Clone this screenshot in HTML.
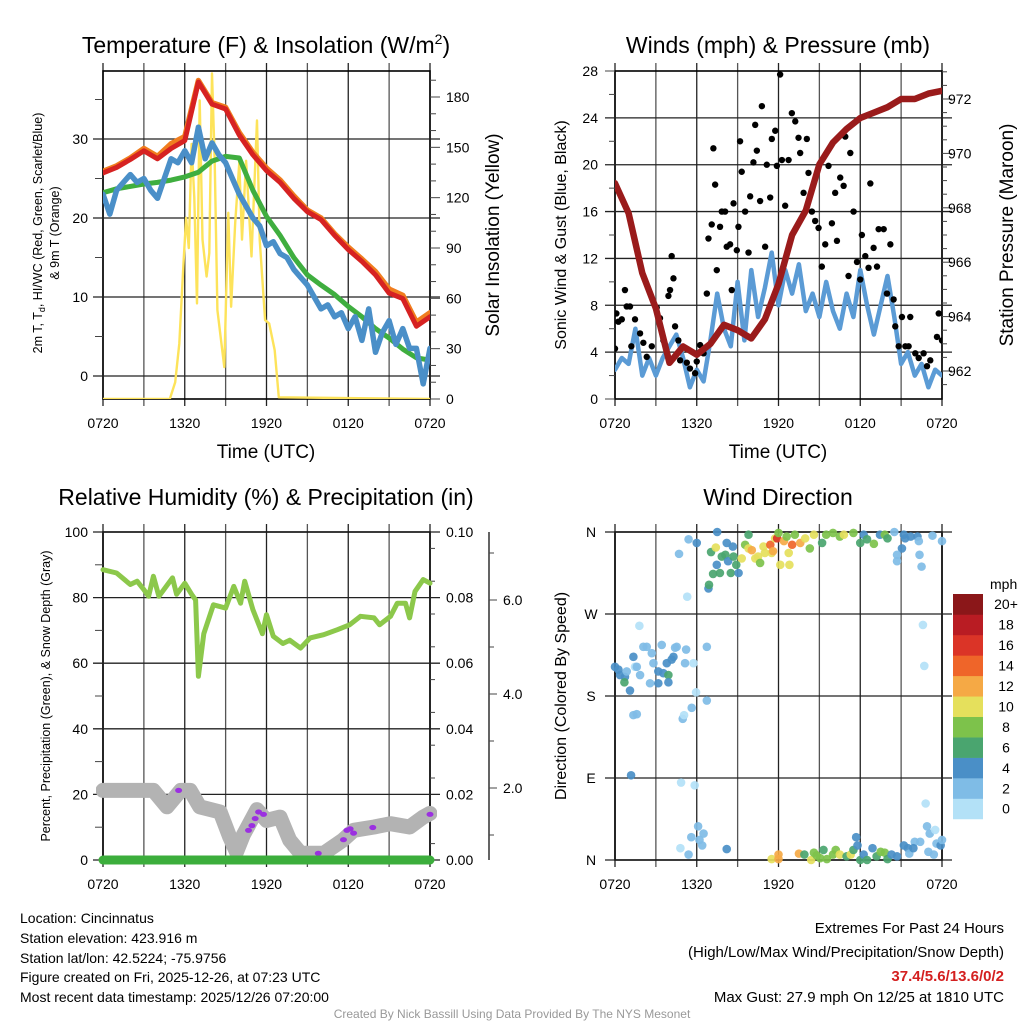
<!DOCTYPE html>
<html><head><meta charset="utf-8"><style>
html,body{margin:0;padding:0;background:#fff;}
svg{display:block;font-family:"Liberation Sans",Arial,sans-serif;}
</style></head><body>
<svg id="chart" width="1024" height="1024" viewBox="0 0 1024 1024" xmlns="http://www.w3.org/2000/svg">
<rect x="0" y="0" width="1024" height="1024" fill="#fff"/>
<text x="266" y="53" font-size="23" text-anchor="middle">Temperature (F) &amp; Insolation (W/m<tspan font-size="14" dy="-9">2</tspan><tspan dy="9">)</tspan></text>
<text x="778" y="53" font-size="23" text-anchor="middle">Winds (mph) &amp; Pressure (mb)</text>
<text x="266" y="505" font-size="23" text-anchor="middle">Relative Humidity (%) &amp; Precipitation (in)</text>
<text x="778" y="505" font-size="23" text-anchor="middle">Wind Direction</text>
<text x="266" y="458" font-size="19" text-anchor="middle">Time (UTC)</text>
<text x="778" y="458" font-size="19" text-anchor="middle">Time (UTC)</text>
<text transform="translate(42,233) rotate(-90)" font-size="12.5" text-anchor="middle">2m T, T<tspan font-size="9" dy="3">d</tspan><tspan dy="-3">, HI/WC (Red, Green, Scarlet/Blue)</tspan></text>
<text transform="translate(59,233) rotate(-90)" font-size="12.5" text-anchor="middle">&amp; 9m T (Orange)</text>
<text transform="translate(499,235) rotate(-90)" font-size="19" text-anchor="middle">Solar Insolation (Yellow)</text>
<text transform="translate(566,235) rotate(-90)" font-size="16" text-anchor="middle">Sonic Wind &amp; Gust (Blue, Black)</text>
<text transform="translate(1013,235) rotate(-90)" font-size="19" text-anchor="middle">Station Pressure (Maroon)</text>
<text transform="translate(50,696) rotate(-90)" font-size="12.5" text-anchor="middle">Percent, Precipitation (Green), &amp; Snow Depth (Gray)</text>
<text transform="translate(566,696) rotate(-90)" font-size="16" text-anchor="middle">Direction (Colored By Speed)</text>
<g font-size="14">
<text x="20" y="923">Location: Cincinnatus</text>
<text x="20" y="943">Station elevation: 423.916 m</text>
<text x="20" y="963">Station lat/lon: 42.5224; -75.9756</text>
<text x="20" y="982">Figure created on Fri, 2025-12-26, at 07:23 UTC</text>
<text x="20" y="1002">Most recent data timestamp: 2025/12/26 07:20:00</text>
</g>
<g font-size="15" text-anchor="end">
<text x="1004" y="933">Extremes For Past 24 Hours</text>
<text x="1004" y="957">(High/Low/Max Wind/Precipitation/Snow Depth)</text>
<text x="1004" y="981" fill="#d42020" font-weight="bold">37.4/5.6/13.6/0/2</text>
<text x="1004" y="1002">Max Gust: 27.9 mph On 12/25 at 1810 UTC</text>
</g>
<text x="512" y="1018" font-size="12" fill="#999" text-anchor="middle">Created By Nick Bassill Using Data Provided By The NYS Mesonet</text>
<defs>
<clipPath id="c1"><rect x="103" y="71" width="327" height="328"/></clipPath>
<clipPath id="c2"><rect x="615" y="71" width="327" height="328"/></clipPath>
<clipPath id="c3"><rect x="96" y="532" width="341" height="336"/></clipPath>
</defs>
</svg>
<script>
// ---------- DATA ----------
var xTickLabels = ["0720","1320","1920","0120","0720"];
var hourly = [0,1,2,3,4,5,6,7,8,9,10,11,12,13,14,15,16,17,18,19,20,21,22,23,24];
var redTemp = [25.7,26.4,27.4,28.5,27.5,28.8,29.8,37.2,34.4,33.8,30.5,28.0,26.0,24.5,22.5,20.8,19.8,17.8,16.0,14.5,12.8,10.5,9.8,6.3,7.5];
var orangeTemp = [25.9,26.6,27.6,28.8,27.8,29.4,30.3,37.4,34.6,34.0,30.8,28.3,26.3,24.8,22.8,21.0,20.0,18.0,16.3,14.8,13.2,11.0,10.2,6.8,8.0];
var greenTemp = [23.2,23.7,24.0,24.3,24.5,24.8,25.2,25.8,27.2,27.8,27.6,23.5,20.2,17.8,15.0,12.8,11.5,10.3,8.8,7.5,6.0,4.8,3.4,2.3,2.0];
var halfHours = [0,0.5,1,1.5,2,2.5,3,3.5,4,4.5,5,5.5,6,6.5,7,7.5,8,8.5,9,9.5,10,10.5,11,11.5,12,12.5,13,13.5,14,14.5,15,15.5,16,16.5,17,17.5,18,18.5,19,19.5,20,20.5,21,21.5,22,22.5,23,23.5,24];
var blueTemp = [23.0,20.5,23.5,24.5,25.5,24.5,25.0,23.5,22.5,25.0,27.5,27.0,28.5,27.0,31.5,27.5,29.5,28.0,27.0,25.0,23.0,21.5,20.0,19.0,16.5,17.0,15.5,15.0,13.5,12.5,11.5,10.0,8.5,9.0,7.5,8.0,6.0,7.5,4.5,8.5,3.0,5.5,7.0,4.0,6.0,3.5,3.5,-1.0,3.5];
var solarTimes = [0,4.9,5.3,5.6,5.9,6.1,6.3,6.5,6.7,6.9,7.1,7.3,7.6,7.8,8.0,8.2,8.4,8.9,9.2,9.4,9.7,10.0,10.2,10.5,10.9,11.3,11.5,11.9,12.2,12.6,12.9,24];
var solarValues = [0,0,10,33,80,108,90,152,120,57,178,95,73,87,194,142,53,19,111,55,105,141,95,142,85,166,95,47,45,29,1,0];
var tempTicks = [0,10,20,30];
var solarTicks = [0,30,60,90,120,150,180];
var windSpeed = [2.5,3.5,3,6,2,3.5,2,3.5,4.5,5.5,3.5,1,2.5,1.5,5,9,6,4.5,10,5,11,7,9.5,12.5,8,11,9,11.5,7.5,9,7,10,7.5,6,9,7,11,8,5.5,8,10.5,7,3,4,2,3,1,2.5,2];
var pressure = [968.9,967.8,965.6,964.3,962.3,962.9,962.6,963.0,963.7,963.5,963.2,963.9,965.2,967.0,967.9,969.6,970.4,970.9,971.3,971.5,971.7,972.0,972.0,972.2,972.3];
var gustTimes = [0,0.1,0.25,0.5,0.73,0.86,1.1,1.2,1.47,1.84,2.08,2.33,2.7,3.06,3.3,3.55,3.92,4.04,4.16,4.29,4.41,4.65,4.78,5.27,5.5,5.88,6.0,6.25,6.5,6.74,6.86,7.1,7.22,7.35,7.47,7.71,7.84,8.08,8.2,8.45,8.57,8.7,8.94,9.06,9.18,9.3,9.55,9.8,9.92,10.16,10.29,10.41,10.65,10.78,11.02,11.14,11.39,11.51,11.76,11.88,12.12,12.25,12.49,12.74,12.98,13.23,13.47,13.59,13.84,14.08,14.2,14.45,14.69,14.94,15.18,15.43,15.67,15.92,16.16,16.29,16.53,16.78,16.9,17.14,17.27,17.51,17.76,18.0,18.12,18.37,18.61,18.74,18.98,19.23,19.35,19.72,19.96,20.21,20.45,20.57,20.82,21.06,21.31,21.55,21.67,22.04,22.29,22.65,22.9,23.14,23.63,23.76,24.0];
var gustValues = [4.3,7.3,6.6,6.8,9.3,7.9,7.9,4.5,6.8,5.6,4.8,3.6,4.5,7.8,6.9,5.0,8.8,9.3,12.2,10.3,6.2,5.0,3.3,3.1,2.6,2.2,3.2,4.6,3.9,9.0,13.7,14.9,21.4,18.3,11.0,14.7,16.0,16.0,13.0,13.2,9.3,16.7,12.7,14.7,22.0,19.4,16.0,12.5,17.3,20.2,23.4,21.2,16.9,25.0,13.0,20.0,17.2,22.2,22.9,19.9,27.7,20.4,16.5,20.4,24.4,23.7,22.3,21.0,17.6,22.2,19.3,16.0,15.2,14.6,11.3,13.2,19.9,15.0,17.6,13.5,18.9,18.2,22.4,10.5,21.0,16.0,11.7,10.2,14.0,12.2,11.2,18.4,12.9,11.3,14.5,14.5,9.0,13.2,8.5,6.2,4.5,7.0,4.5,4.5,7.0,3.9,3.5,3.9,2.8,3.3,5.3,7.3,5.0];
var windTicks = [0,4,8,12,16,20,24,28];
var pressureTicks = [962,964,966,968,970,972];
var rhTimes = [0,1,2,2.5,3,3.35,3.7,4.1,5.1,5.4,6,6.5,6.8,7,7.4,8.1,9,9.6,10.1,10.4,11,11.7,12,12.5,13.2,13.7,14.5,15.2,16.2,17.2,18.1,18.9,19.9,20.3,21.1,21.6,22.2,22.5,22.9,23.5,24];
var rhValues = [88.5,87.5,84,85,82.4,80.4,86.5,80.4,86,81,84.4,81,79.3,56,69,77.8,76.8,83.4,78.3,85,76.3,69,74.8,68.2,66,67,64.6,67.7,68.7,70.2,71.7,74.3,73.8,71.7,74.3,78.3,78.3,73.8,81.9,85.5,84.4];
var precipTimes = [0,24];
var precipValues = [0,0];
var snowTimes = [0,3.7,4.7,5.7,6.4,7.1,8.6,9.3,9.8,10.3,11.3,12,13,13.7,14.5,16.2,17.6,18.4,19.9,21.1,22.5,23.5,24];
var snowDepth = [1.95,1.95,1.6,1.95,1.95,1.6,1.49,0.96,0.64,1.0,1.54,1.31,1.38,0.89,0.61,0.61,0.89,1.1,1.17,1.24,1.17,1.38,1.46];
var snowEventTimes = [5.55,10.68,10.93,11.17,11.42,11.78,15.8,17.65,17.9,18.14,18.39,19.8,24];
var snowEventValues = [1.95,1.1,1.2,1.35,1.49,1.44,0.61,0.9,1.1,1.13,1.04,1.16,1.44];
var rhTicks = [0,20,40,60,80,100];
var precipTicks = ["0.00","0.02","0.04","0.06","0.08","0.10"];
var snowTicks = [2.0,4.0,6.0];
var dirTimes = [0,0.25,0.37,0.73,0.69,0.86,1.1,1.35,1.47,1.6,1.84,2.08,2.33,2.57,2.7,2.82,3.18,3.18,3.43,3.55,3.8,3.92,3.92,4.16,4.29,4.41,4.53,5.14,5.22,5.76,6.74,1.79,
 1.35,1.6,1.18,4.97,5.07,5.63,5.95,6.74,4.85,5.85,
 6.1,6.5,6.2,5.6,4.8,5.4,8.2,6.4,
 11.5,12,12,13.5,13.9,14.4,14.6,14.8,15.06,15.3,15.55,16,16.2,16.5,17,17.3,17.5,17.8,17.7,18,18.25,18.5,18.9,19.2,19.5,19.8,20,20.3,20.7,21.2,21.5,21.6,22,22.4,22.8,22.9,23.1,23,23.4,23.6,23.9,24,23.5,21.9,
 5.4,6,4.7,5.3,6.86,6.9,7.05,7.2,7.4,7.5,7.47,7.7,7.84,8.2,8.1,8.3,8.5,8.65,8.7,8.9,9.07,9.3,9.55,9.8,9.8,10.04,10.3,10.5,10.65,10.9,11,11.4,11.5,11.6,11.75,11.9,12,12.4,12.6,12.75,12.8,13,13.2,13.6,13.96,14.3,14.6,15.2,15.5,16,16.5,16.8,17.5,18,18.25,18.5,19,19.45,19.8,20,20.5,21.2,21.3,21.7,22.2,21.06,20.7,20.7,22.3,22.35,22.5,23.3,24,12.13,22.6,22.7];
var dirDegrees = [212,209,203,201,195,207,186,223,212,212,203,234,234,194,227,216,194,207,236,205,216,203,195,220,223,233,234,216,231,216,234,257,
 159,160,93,155,159,167,184,175,85,82,
 37,29,22,25,13,6,12,16,
 1,6,1,7,6,0,8,5,2,11,1,6,11,6,4,6,11,16,25,0,6,0,13,4,9,8,1,6,4,16,13,7,20,20,62,37,29,9,6,18,16,22,33,13,
 352,348,336,289,298,302,338,314,343,360,324,315,333,348,335,328,315,344,333,324,315,331,346,357,342,340,331,333,326,344,337,346,337,339,353,353,359,350,355,337,324,346,357,348,353,342,357,348,357,359,355,357,359,348,357,352,347,357,357,353,360,357,353,355,355,342,335,328,350,335,322,356,350,324,258,213];
var dirSpeeds = [4,4,4,4,6,2,4,4,0,2,2,2,2,2,2,2,4,4,2,4,4,6,4,4,4,2,2,2,2,0,2,0,
 2,2,4,2,0,2,0,2,0,0,
 2,2,2,2,0,2,4,2,
 10,12,12,12,6,10,8,8,8,6,8,8,8,10,6,10,6,4,4,6,4,6,4,6,8,8,6,4,4,4,4,2,2,2,0,2,2,2,2,2,4,2,0,4,
 2,4,2,0,4,6,6,6,10,4,4,6,6,4,6,4,6,4,6,6,4,10,8,6,10,12,10,10,8,10,10,14,10,12,10,16,8,12,8,10,10,14,8,12,10,8,10,6,8,8,8,10,8,6,4,6,8,4,8,6,2,4,4,4,4,4,2,2,2,2,2,2,2,10,0,0];
var dirTickLabels = ["N","E","S","W","N"];
var speedBins = ["0","2","4","6","8","10","12","14","16","18","20+"];
var speedColors = ["#b3e1f7","#7fbce6","#4a8fc7","#4aa56f","#7dc24b","#e5e05c","#f5a945","#ef6529","#db3427","#b91c23","#8b1719"];

// ---------- HELPERS ----------
var NS = "http://www.w3.org/2000/svg";
var svg = document.getElementById("chart");
function mk(tag, attrs, parent) {
  var el = document.createElementNS(NS, tag);
  for (var k in attrs) el.setAttribute(k, attrs[k]);
  (parent || svg).appendChild(el);
  return el;
}
function lin(d0, d1, r0, r1) { return function (v) { return r0 + (v - d0) * (r1 - r0) / (d1 - d0); }; }
function pathD(xs, ys, fx, fy) {
  var d = "";
  for (var i = 0; i < xs.length; i++) d += (i ? "L" : "M") + fx(xs[i]).toFixed(1) + "," + fy(ys[i]).toFixed(1);
  return d;
}

function drawFrame(L, T, R, B, name) {
  var g = mk("g", {});
  
  
  var fx = lin(0, 24, L, R);
  for (var h = 0; h <= 24; h += 3) {
    var x = fx(h);
    var ln = mk("line", {x1: x, y1: T - 8, x2: x, y2: B + 7, stroke: (h % 6 === 0 ? "#222" : "#555"), "stroke-width": 1.3}, g);
    
    
  }
  for (var i = 0; i < xTickLabels.length; i++) {
    var t = mk("text", {x: fx(i * 6), y: B + 29, "font-size": 14, "text-anchor": "middle"}, g);
    t.textContent = xTickLabels[i];
    
    
  }
  var fr = mk("rect", {x: L, y: T, width: R - L, height: B - T, fill: "none", stroke: "#000", "stroke-width": 1.6}, g);
  
  
  return fx;
}
function hLine(g, L, R, y, ext, name) {
  var ln = mk("line", {x1: L - ext, y1: y, x2: R + ext, y2: y, stroke: "#222", "stroke-width": 1.3}, g);
  
  
}
function tick(g, x1, y, x2, name) {
  var ln = mk("line", {x1: x1, y1: y, x2: x2, y2: y, stroke: "#444", "stroke-width": 1}, g);
  
  
}
function label(g, x, y, txt, anchor, name, size) {
  var t = mk("text", {x: x, y: y + 5, "font-size": size || 14, "text-anchor": anchor}, g);
  t.textContent = txt;
  
  
}
function series(d, color, width, clip, name, opacity) {
  var p = mk("path", {d: d, fill: "none", stroke: color, "stroke-width": width, "stroke-linejoin": "round", "stroke-linecap": "round", "clip-path": "url(#" + clip + ")", opacity: opacity || 1});
  
  
  return p;
}

// ---------- PANEL 1: TEMPERATURE ----------
(function () {
  var L = 103, R = 430, T = 71, B = 399;
  var fx = drawFrame(L, T, R, B, "temperature");
  var fy = lin(0, 30, 376, 139);
  var fs = lin(0, 180, 399, 97);
  var g = mk("g", {});
  
  
  for (var i = 0; i < tempTicks.length; i++) {
    hLine(g, L, R, fy(tempTicks[i]), 10, 'temperature-y-gridline');
    label(g, 88, fy(tempTicks[i]), String(tempTicks[i]), "end", 'temperature-y-tick-label');
  }
  for (var v = 5; v <= 35; v += 10) tick(g, L - 8, fy(v), L, 'temperature-minor-tick');
  for (var j = 0; j < solarTicks.length; j++) {
    tick(g, R, fs(solarTicks[j]), R + 10, 'solar-tick');
    label(g, 446, fs(solarTicks[j]), String(solarTicks[j]), "start", 'solar-tick-label');
  }
  for (var s = 10; s <= 190; s += 10) if (s % 30) tick(g, R, fs(s), R + 6, 'solar-minor-tick');
  series(pathD(solarTimes, solarValues, fx, fs), "#fde35a", 2.4, "c1", "solar-insolation-line");
  series(pathD(hourly, orangeTemp, fx, fy), "#f07d1e", 5.5, "c1", "9m-temperature-line");
  series(pathD(hourly, redTemp, fx, fy), "#d62222", 5, "c1", "heat-index-line");
  series(pathD(hourly, greenTemp, fx, fy), "#3fae3f", 5, "c1", "2m-temperature-line");
  series(pathD(halfHours, blueTemp, fx, fy), "#4a8fc8", 5.5, "c1", "dewpoint-line");
})();

// ---------- PANEL 2: WINDS ----------
(function () {
  var L = 615, R = 942, T = 71, B = 399;
  var fx = drawFrame(L, T, R, B, "winds");
  var fy = lin(0, 28, 399, 71);
  var fp = lin(962, 972, 371, 99);
  var g = mk("g", {});
  
  
  for (var i = 0; i < windTicks.length; i++) {
    if (windTicks[i] > 0 && windTicks[i] < 28) hLine(g, L, R, fy(windTicks[i]), 10, 'winds-y-gridline');
    else tick(g, L - 10, fy(windTicks[i]), L, 'winds-y-tick');
    label(g, 598, fy(windTicks[i]), String(windTicks[i]), "end", 'winds-y-tick-label');
  }
  for (var v = 2; v < 28; v += 4) tick(g, L - 6, fy(v), L, 'winds-minor-tick');
  for (var j = 0; j < pressureTicks.length; j++) {
    tick(g, R, fp(pressureTicks[j]), R + 10, 'pressure-tick');
    label(g, 948, fp(pressureTicks[j]), String(pressureTicks[j]), "start", 'pressure-tick-label');
  }
  for (var p = 961.5; p <= 973; p += 0.5) if (p % 2) tick(g, R, fp(p), R + 5, 'pressure-minor-tick');
  series(pathD(halfHours, windSpeed, fx, fy), "#5b9bd5", 4.5, "c2", "sustained-wind-line");
  var gg = mk("g", {"clip-path": "url(#c2)"});
  
  
  for (var k = 0; k < gustTimes.length; k++) {
    var c = mk("circle", {cx: fx(gustTimes[k]), cy: fy(gustValues[k]), r: 3.2, fill: "#000"}, gg);
    
    
  }
  series(pathD(hourly, pressure, fx, fp), "#9a1b1b", 6.5, "c2", "pressure-line");
})();

// ---------- PANEL 3: HUMIDITY ----------
(function () {
  var L = 103, R = 430, T = 532, B = 860;
  var fx = drawFrame(L, T, R, B, "humidity");
  var fy = lin(0, 100, 860, 532);
  var fsn = lin(0, 2, 882, 788);
  var g = mk("g", {});
  
  
  for (var i = 0; i < rhTicks.length; i++) {
    hLine(g, L, R, fy(rhTicks[i]), 10, 'humidity-y-gridline');
    label(g, 88, fy(rhTicks[i]), String(rhTicks[i]), "end", 'humidity-y-tick-label');
  }
  for (var v = 10; v <= 90; v += 20) tick(g, L - 8, fy(v), L, 'humidity-minor-tick');
  for (var j = 0; j < precipTicks.length; j++) {
    label(g, 446, fy(j * 20), precipTicks[j], "start", 'precip-tick-label');
  }
  for (var m = 5; m <= 95; m += 10) tick(g, R, fy(m), R + 5, 'precip-minor-tick');
  var ax = mk("line", {x1: 489, y1: 532, x2: 489, y2: 860, stroke: "#222", "stroke-width": 1.4}, g);
  
  
  for (var s = 0; s < snowTicks.length; s++) {
    tick(g, 489, fsn(snowTicks[s]), 497, 'snow-tick');
    label(g, 503, fsn(snowTicks[s]), snowTicks[s].toFixed(1), "start", 'snow-tick-label');
  }
  for (var q = 1; q <= 7; q += 2) tick(g, 489, fsn(q), 494, 'snow-minor-tick');
  series(pathD(snowTimes, snowDepth, fx, fsn), "#b3b3b3", 15, "c3", "snow-depth-line");
  var pg = mk("g", {});
  
  
  for (var k = 0; k < snowEventTimes.length; k++) {
    var e = mk("ellipse", {cx: fx(snowEventTimes[k]), cy: fsn(snowEventValues[k]), rx: 3.5, ry: 2.6, fill: "#9b30e0"}, pg);
    
    
  }
  series(pathD(rhTimes, rhValues, fx, fy), "#8cc84b", 5, "c3", "relative-humidity-line");
  series(pathD(precipTimes, precipValues, fx, fy), "#3cae3c", 9, "c3", "precipitation-line");
})();

// ---------- PANEL 4: WIND DIRECTION ----------
(function () {
  var L = 615, R = 942, T = 532, B = 860;
  var fx = drawFrame(L, T, R, B, "direction");
  var fy = lin(0, 360, 860, 532);
  var g = mk("g", {});
  
  
  for (var i = 0; i < dirTickLabels.length; i++) {
    hLine(g, L, R, fy(i * 90), 10, 'direction-y-gridline');
    label(g, 591, fy(i * 90), dirTickLabels[i], "middle", 'direction-y-tick-label');
  }
  var pg = mk("g", {});
  
  
  for (var k = 0; k < dirTimes.length; k++) {
    var bin = Math.min(10, Math.floor(dirSpeeds[k] / 2));
    var c = mk("circle", {cx: fx(dirTimes[k]), cy: fy(dirDegrees[k]), r: 4.3, fill: speedColors[bin], opacity: 0.92}, pg);
    
    
  }
  var lg = mk("g", {});
  
  
  var lt = mk("text", {x: 990, y: 589, "font-size": 14}, lg);
  lt.textContent = "mph";
  
  
  var top = 594, h = 20.45;
  for (var b = 0; b < speedBins.length; b++) {
    var y = top + (speedBins.length - 1 - b) * h;
    var r = mk("rect", {x: 953, y: y, width: 30, height: h + 0.3, fill: speedColors[b]}, lg);
    
    
    var t = mk("text", {x: 1006, y: y + h / 2 + 5, "font-size": 14, "text-anchor": "middle"}, lg);
    t.textContent = speedBins[b];
    
    
  }
})();
</script>
</body></html>
